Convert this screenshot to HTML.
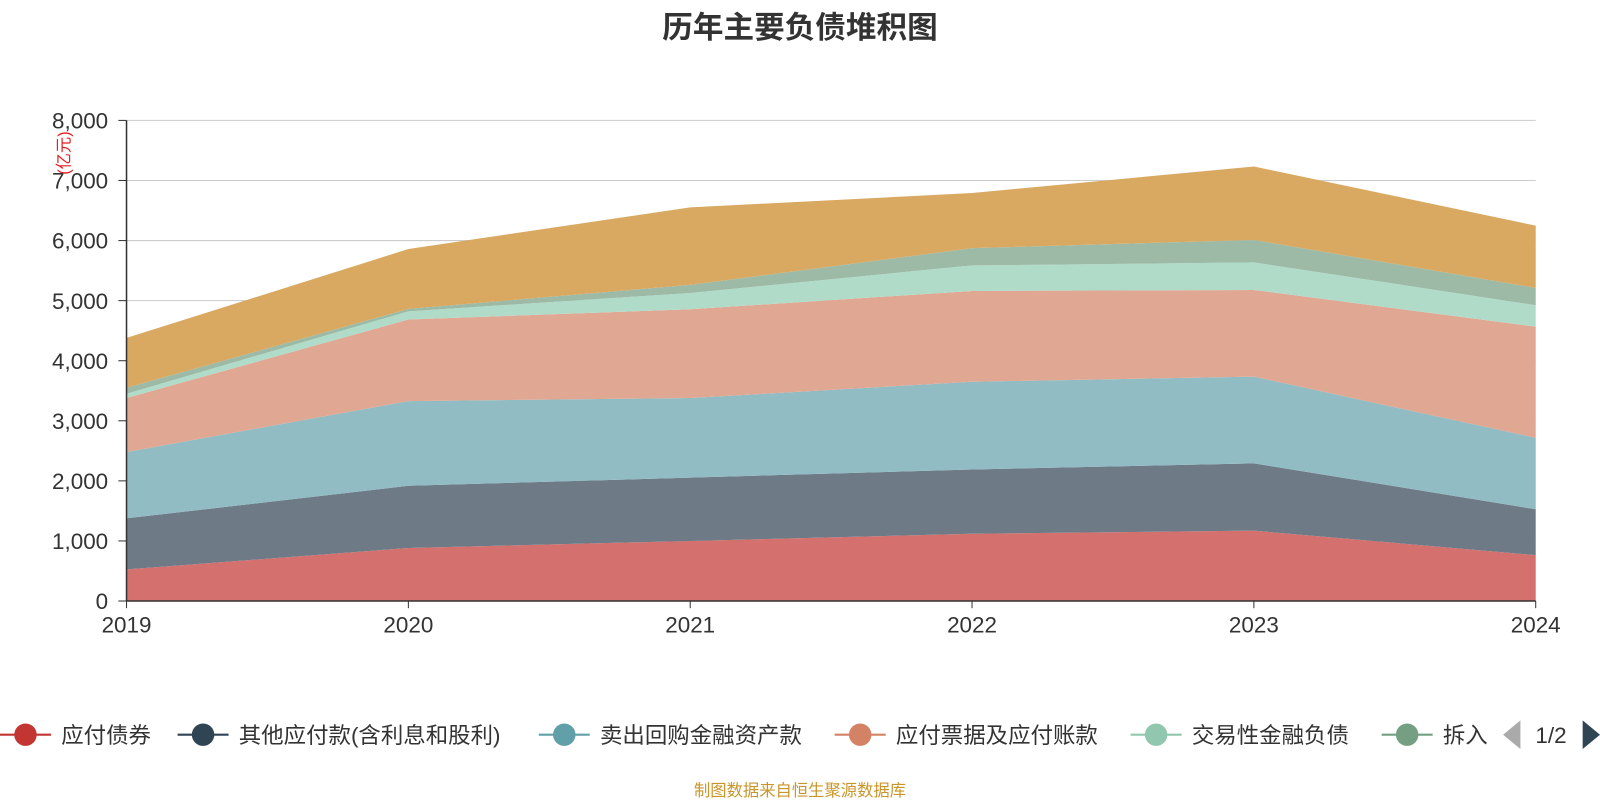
<!DOCTYPE html>
<html><head><meta charset="utf-8"><style>
body{margin:0;width:1600px;height:800px;background:#fff;overflow:hidden;font-family:"Liberation Sans","Noto Sans CJK SC",sans-serif}
#wrap{position:absolute;left:0;top:0;width:1568px;height:784px;transform:scale(1.020408);transform-origin:0 0}
</style></head><body>
<div id="wrap">
<svg id="c" width="1568" height="784" xmlns="http://www.w3.org/2000/svg">
<text x="784" y="37" text-anchor="middle" font-size="30" font-weight="bold" fill="#333">历年主要负债堆积图</text>
<text transform="translate(68,150) rotate(-90)" text-anchor="middle" font-size="16" fill="#e02020">(亿元)</text>
<g id="grid"></g><g id="areas"></g><g id="axes"></g><g id="legend"></g>
<text x="784" y="780" text-anchor="middle" font-size="16" fill="#c8962a">制图数据来自恒生聚源数据库</text>
<polygon points="1490,706 1490,734 1473,720" fill="#aaa"/>
<text x="1520" y="728" text-anchor="middle" font-size="22" fill="#333">1/2</text>
<polygon points="1551,706 1551,734 1568,720" fill="#2f4554"/>
</svg>
</div>
<script>
const years=["2019","2020","2021","2022","2023","2024"];
const names=["应付债券","其他应付款(含利息和股利)","卖出回购金融资产款","应付票据及应付账款","交易性金融负债","拆入资金","其他"];
const s1=[526,883,1000,1120,1171,764];
const s2=[850,1035,1054,1070,1121,764];
const s3=[1104,1410,1325,1460,1443,1188];
const s4=[900,1358,1477,1511,1443,1851];
const s5=[70,136,271,425,459,357];
const s6=[100,40,136,288,373,288];
const s7=[830,997,1290,917,1223,1036];
const series=[s1,s2,s3,s4,s5,s6,s7];
const yTicks=[0,1000,2000,3000,4000,5000,6000,7000,8000];
const fills=["#d4706e","#6e7b87","#91bcc3","#e0a793","#b1dbc9","#9cbaa6","#d9a962"];
const lcol=["#c23531","#2f4554","#61a0a8","#d48265","#91c7ae","#749f83"];
const NS="http://www.w3.org/2000/svg";
const x0=124,x1=1505,y0=589,y1=118;
const X=i=>x0+i*(x1-x0)/(years.length-1);
const Y=v=>y0-v*(y0-y1)/8000;
function el(t,a,p){const e=document.createElementNS(NS,t);for(const k in a)e.setAttribute(k,a[k]);document.getElementById(p).appendChild(e);return e;}
yTicks.forEach(v=>{
 const g=el("line",{x1:x0,x2:x1,y1:Y(v),y2:Y(v),stroke:"#ccc","stroke-width":1},"grid");
 
 
 const t=el("text",{x:106,y:Y(v)+8,"text-anchor":"end","font-size":22,fill:"#333"},"axes");
 t.textContent=v.toLocaleString("en-US");
 
 
 el("line",{x1:x0-8,x2:x0,y1:Y(v),y2:Y(v),stroke:"#333"},"axes");
});
let base=years.map(()=>0);
series.forEach((s,k)=>{
 const top=base.map((b,i)=>b+s[i]);
 let d="M"+top.map((v,i)=>X(i)+","+Y(v)).join("L");
 for(let i=years.length-1;i>=0;i--)d+="L"+X(i)+","+Y(base[i]);
 const p=el("path",{d:d+"Z",fill:fills[k]},"areas");
 
 
 base=top;
});
el("line",{x1:x0,x2:x0,y1:y1,y2:y0,stroke:"#333","stroke-width":1.5},"axes");
el("line",{x1:x0,x2:x1,y1:y0,y2:y0,stroke:"#333","stroke-width":1.5},"axes");
years.forEach((yr,i)=>{
 el("line",{x1:X(i),x2:X(i),y1:y0,y2:y0+7,stroke:"#333"},"axes");
 const t=el("text",{x:X(i),y:620,"text-anchor":"middle","font-size":22,fill:"#333"},"axes");
 t.textContent=yr;
 
 
});
const lx=[0,174,528,818,1108,1354];
for(let k=0;k<6;k++){
 const g=el("g",{},"legend");
 
 
 const e=document.createElementNS(NS,"line");
 e.setAttribute("x1",lx[k]);e.setAttribute("x2",lx[k]+50);e.setAttribute("y1",720);e.setAttribute("y2",720);e.setAttribute("stroke",lcol[k]);e.setAttribute("stroke-width",2);g.appendChild(e);
 const c=document.createElementNS(NS,"circle");
 c.setAttribute("cx",lx[k]+25);c.setAttribute("cy",720);c.setAttribute("r",11);c.setAttribute("fill",lcol[k]);g.appendChild(c);
 const t=document.createElementNS(NS,"text");
 t.setAttribute("x",lx[k]+60);t.setAttribute("y",728);t.setAttribute("font-size",22);t.setAttribute("fill","#333");
 t.textContent=k==5?"拆入":names[k];g.appendChild(t);
}
</script>
</body></html>
